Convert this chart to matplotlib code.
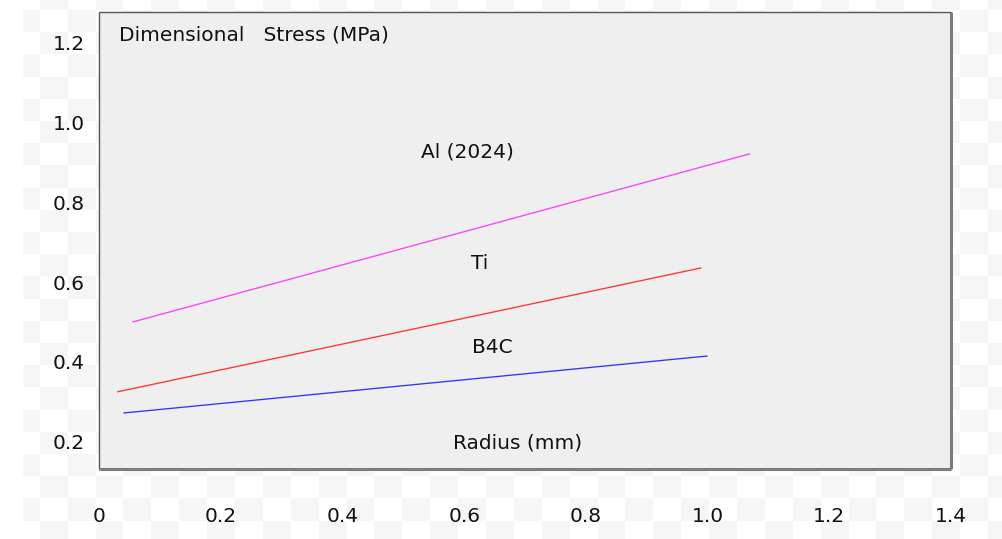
import numpy as np
import matplotlib
matplotlib.use("Agg")
import matplotlib.pyplot as plt

plt.rcParams['font.family'] = ['DejaVu Sans']

# straight-line stress curves: (radius, stress) at both ends
materials = ['Al (2024)', 'Ti', 'B4C']
radius = [[0.055, 1.07], [0.03, 0.99], [0.04, 1.0]]
stress = [[0.50, 0.922], [0.325, 0.636], [0.272, 0.415]]
colors = ['#ff40ff', '#ff3434', '#3434ff']
label_pos = [(0.6055, 0.926), (0.626, 0.648), (0.647, 0.4375)]

xticks = [0, 0.2, 0.4, 0.6, 0.8, 1.0, 1.2, 1.4]
xlabels = ['0', '0.2', '0.4', '0.6', '0.8', '1.0', '1.2', '1.4']
yticks = [0.2, 0.4, 0.6, 0.8, 1.0, 1.2]
ylabels = ['0.2', '0.4', '0.6', '0.8', '1.0', '1.2']

W, H = 1003, 539
fig = plt.figure(figsize=(W / 100, H / 100), dpi=100)

# transparent-looking checker backdrop
bg = fig.add_axes([0, 0, 1, 1])
bg.axis('off')
cw, ch = 27.88, 22.2
x0, y0 = 12.2, -12.2
nc, nr = 36, 26
cells = (np.add.outer(np.arange(nr), np.arange(nc)) % 2).astype(float)
bg.imshow(cells, cmap=matplotlib.colors.ListedColormap(['#ffffff', '#f6f6f6']),
          extent=[x0, x0 + nc * cw, y0 + nr * ch, y0], interpolation='nearest',
          aspect='auto', zorder=0)
bg.add_patch(plt.Rectangle((0, 0), 22, H, color='white', zorder=1))
bg.set_xlim(0, W)
bg.set_ylim(H, 0)

txt = '#111111'
ax = fig.add_axes([99 / W, 70 / H, 852 / W, 457 / H])
ax.set_facecolor('#efefef')
for xs, ys, c in zip(radius, stress, colors):
    ax.plot(xs, ys, color=c, lw=0.95, solid_capstyle='butt')
for name, (tx, ty) in zip(materials, label_pos):
    ax.text(tx, ty, name, ha='center', va='center', fontsize=14.5, color=txt)

ax.text(0.0329, 1.2197, 'Dimensional   Stress (MPa)', ha='left', va='center',
        fontsize=14.5, color=txt)
ax.text(0.687, 0.197, 'Radius (mm)', ha='center', va='center',
        fontsize=14.5, color=txt)

ax.set_xlim(0, 1.4)
ax.set_ylim(0.1317, 1.2773)
ax.set_xticks(xticks)
ax.set_xticklabels(xlabels)
ax.set_yticks(yticks)
ax.set_yticklabels(ylabels)
ax.tick_params(axis='x', length=0, pad=27, labelsize=14.5, labelcolor=txt)
ax.tick_params(axis='y', length=0, pad=10, labelsize=14.5, labelcolor=txt)

for s in ['left', 'top']:
    ax.spines[s].set_color('#555555')
    ax.spines[s].set_linewidth(1.0)
for s in ['right', 'bottom']:
    ax.spines[s].set_color('#7c7c7c')
    ax.spines[s].set_linewidth(2.2)
for sp in ax.spines.values():
    sp.set_capstyle('butt')

fig.savefig('out.png', dpi=100)
